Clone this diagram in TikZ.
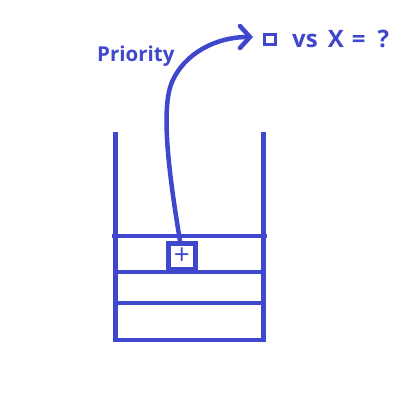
\documentclass[tikz,border=0pt]{standalone}
\usepackage{fontspec}
\setmainfont{Open Sans}
\usetikzlibrary{arrows.meta}
\definecolor{ink}{RGB}{63,72,204}
\begin{document}
\begin{tikzpicture}[x=1pt,y=-1pt,
  wall/.style={draw=ink,line width=4.7pt},
  itembox/.style={draw=ink,line width=5pt,rectangle,inner sep=0pt,minimum width=27pt,minimum height=26pt,text=ink},
  lbl/.style={text=ink,inner sep=0pt,font=\bfseries},
  conn/.style={draw=ink,line width=4.5pt,line cap=round,-{Straight Barb[length=10pt,width=22pt,line cap=round]}}]
\useasboundingbox (0,0) rectangle (402,409);
% stack walls and shelves
\coordinate (tl) at (115.3,132);
\coordinate (tr) at (263.3,132);
\coordinate (bl) at (115.3,340);
\coordinate (br) at (263.3,340);
\draw[wall] (tl) -- (bl) -- (br) -- (tr);
\coordinate (s1l) at (112,236);
\coordinate (s1r) at (267,236);
\coordinate (s2l) at (115.3,272);
\coordinate (s2r) at (263.3,272);
\coordinate (s3l) at (115.3,303);
\coordinate (s3r) at (263.3,303);
\draw[wall] (s1l) -- (s1r);
\draw[wall] (s2l) -- (s2r);
\draw[wall] (s3l) -- (s3r);
% item with plus
\node[itembox,font={\fontsize{28}{28}\selectfont}] (item) at (182,256.5) {+};
% labels
\node[lbl,anchor=base west,font={\bfseries\fontsize{20.5}{21}\selectfont}] (prio) at (97,62) {Priority};
\node[draw=ink,line width=3pt,rectangle,inner sep=0pt,minimum width=11pt,minimum height=10pt] (sq) at (270,39.5) {};
\node[lbl,anchor=base west,font={\bfseries\fontsize{24}{24}\selectfont}] (vs) at (292,48) {vs\hspace{10pt}X\hspace{8pt}=\hspace{12pt}?};
% arrow
\coordinate (tip) at (253,37);
\draw[conn] ([xshift=-2pt]item.north) .. controls (170,180) and (160,110) .. (172,82) .. controls (184,54) and (215,37) .. (tip);
\end{tikzpicture}
\end{document}
